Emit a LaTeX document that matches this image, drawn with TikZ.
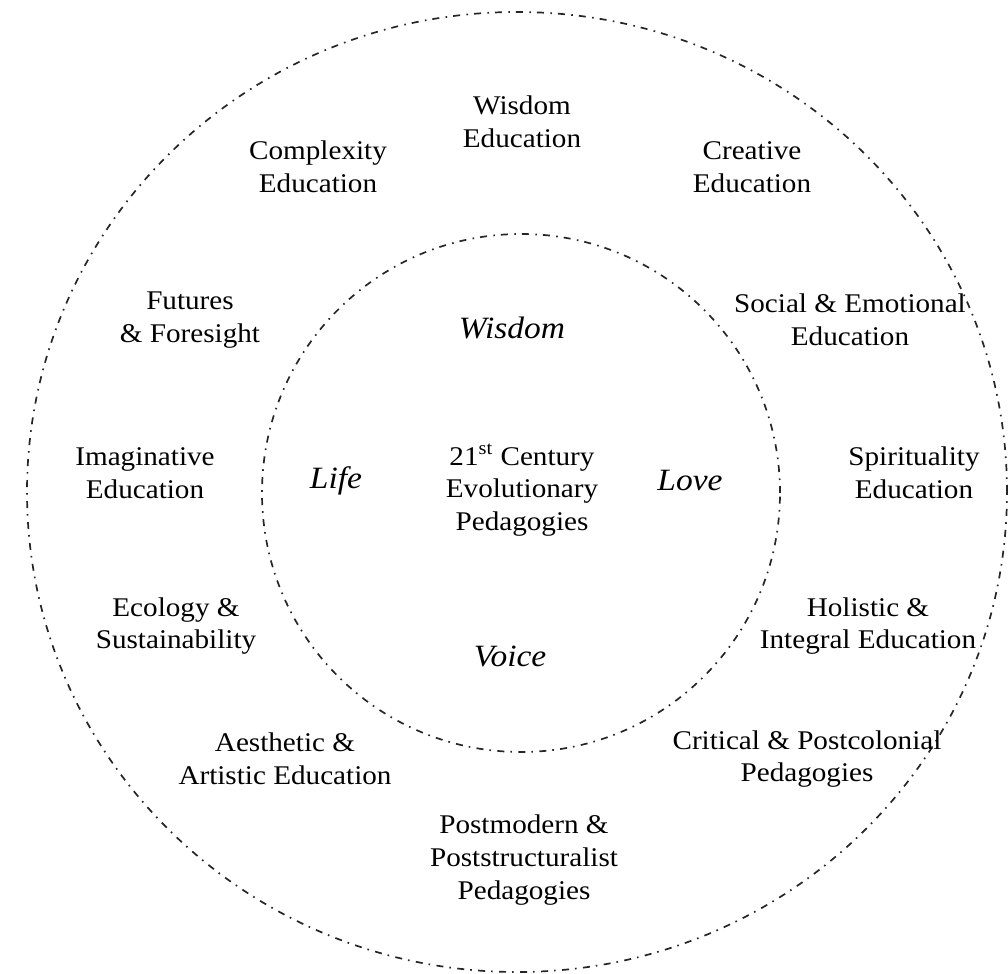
\documentclass[tikz,border=0pt]{standalone}
\usepackage{fontspec}
\setmainfont[FakeStretch=1.08]{Liberation Serif}
\begin{document}
\begin{tikzpicture}[x=0.5pt,y=-0.5pt,
  ring/.style={draw=black!85, line width=0.85pt, dash pattern=on 3.5pt off 3pt on 0.8pt off 3.2pt},
  lbl/.style={align=center, inner sep=0pt, font=\fontsize{13.5pt}{16.3pt}\selectfont},
  key/.style={inner sep=0pt, font=\fontsize{15.5pt}{18pt}\selectfont\itshape}]
\useasboundingbox (0,0) rectangle (1008,974);
\coordinate (oc) at (517,492);
\coordinate (ic) at (521,493);
\draw[ring] (oc) ellipse [x radius=245pt, y radius=240pt];
\draw[ring] (ic) circle [radius=129.5pt];

\node[lbl] (wisedu) at (522,122) {Wisdom\\Education};
\node[lbl] (complex) at (318,167) {Complexity\\Education};
\node[lbl] (creative) at (752,167) {Creative\\Education};
\node[lbl] (futures) at (190,320) {Futures\\\& Foresight};
\node[lbl] (social) at (850,320) {Social \& Emotional\\Education};
\node[lbl] (imag) at (145,473) {Imaginative\\Education};
\node[lbl] (spirit) at (914,473) {Spirituality\\Education};
\node[lbl] (ecol) at (176,626) {Ecology \&\\Sustainability};
\node[lbl] (holist) at (868,626) {Holistic \&\\Integral Education};
\node[lbl] (aesth) at (285,759) {Aesthetic \&\\Artistic Education};
\node[lbl] (crit) at (807,759) {Critical \& Postcolonial\\Pedagogies};
\node[lbl] (postmod) at (524,860) {Postmodern \&\\Poststructuralist\\Pedagogies};

\node[key] (kwis) at (512,328) {Wisdom};
\node[key] (klife) at (336,481) {Life};
\node[key] (klove) at (690,481) {Love};
\node[key] (kvoice) at (510,656) {Voice};

\node[lbl] (center) at (522,490) {21\textsuperscript{st} Century\\Evolutionary\\Pedagogies};
\end{tikzpicture}
\end{document}
